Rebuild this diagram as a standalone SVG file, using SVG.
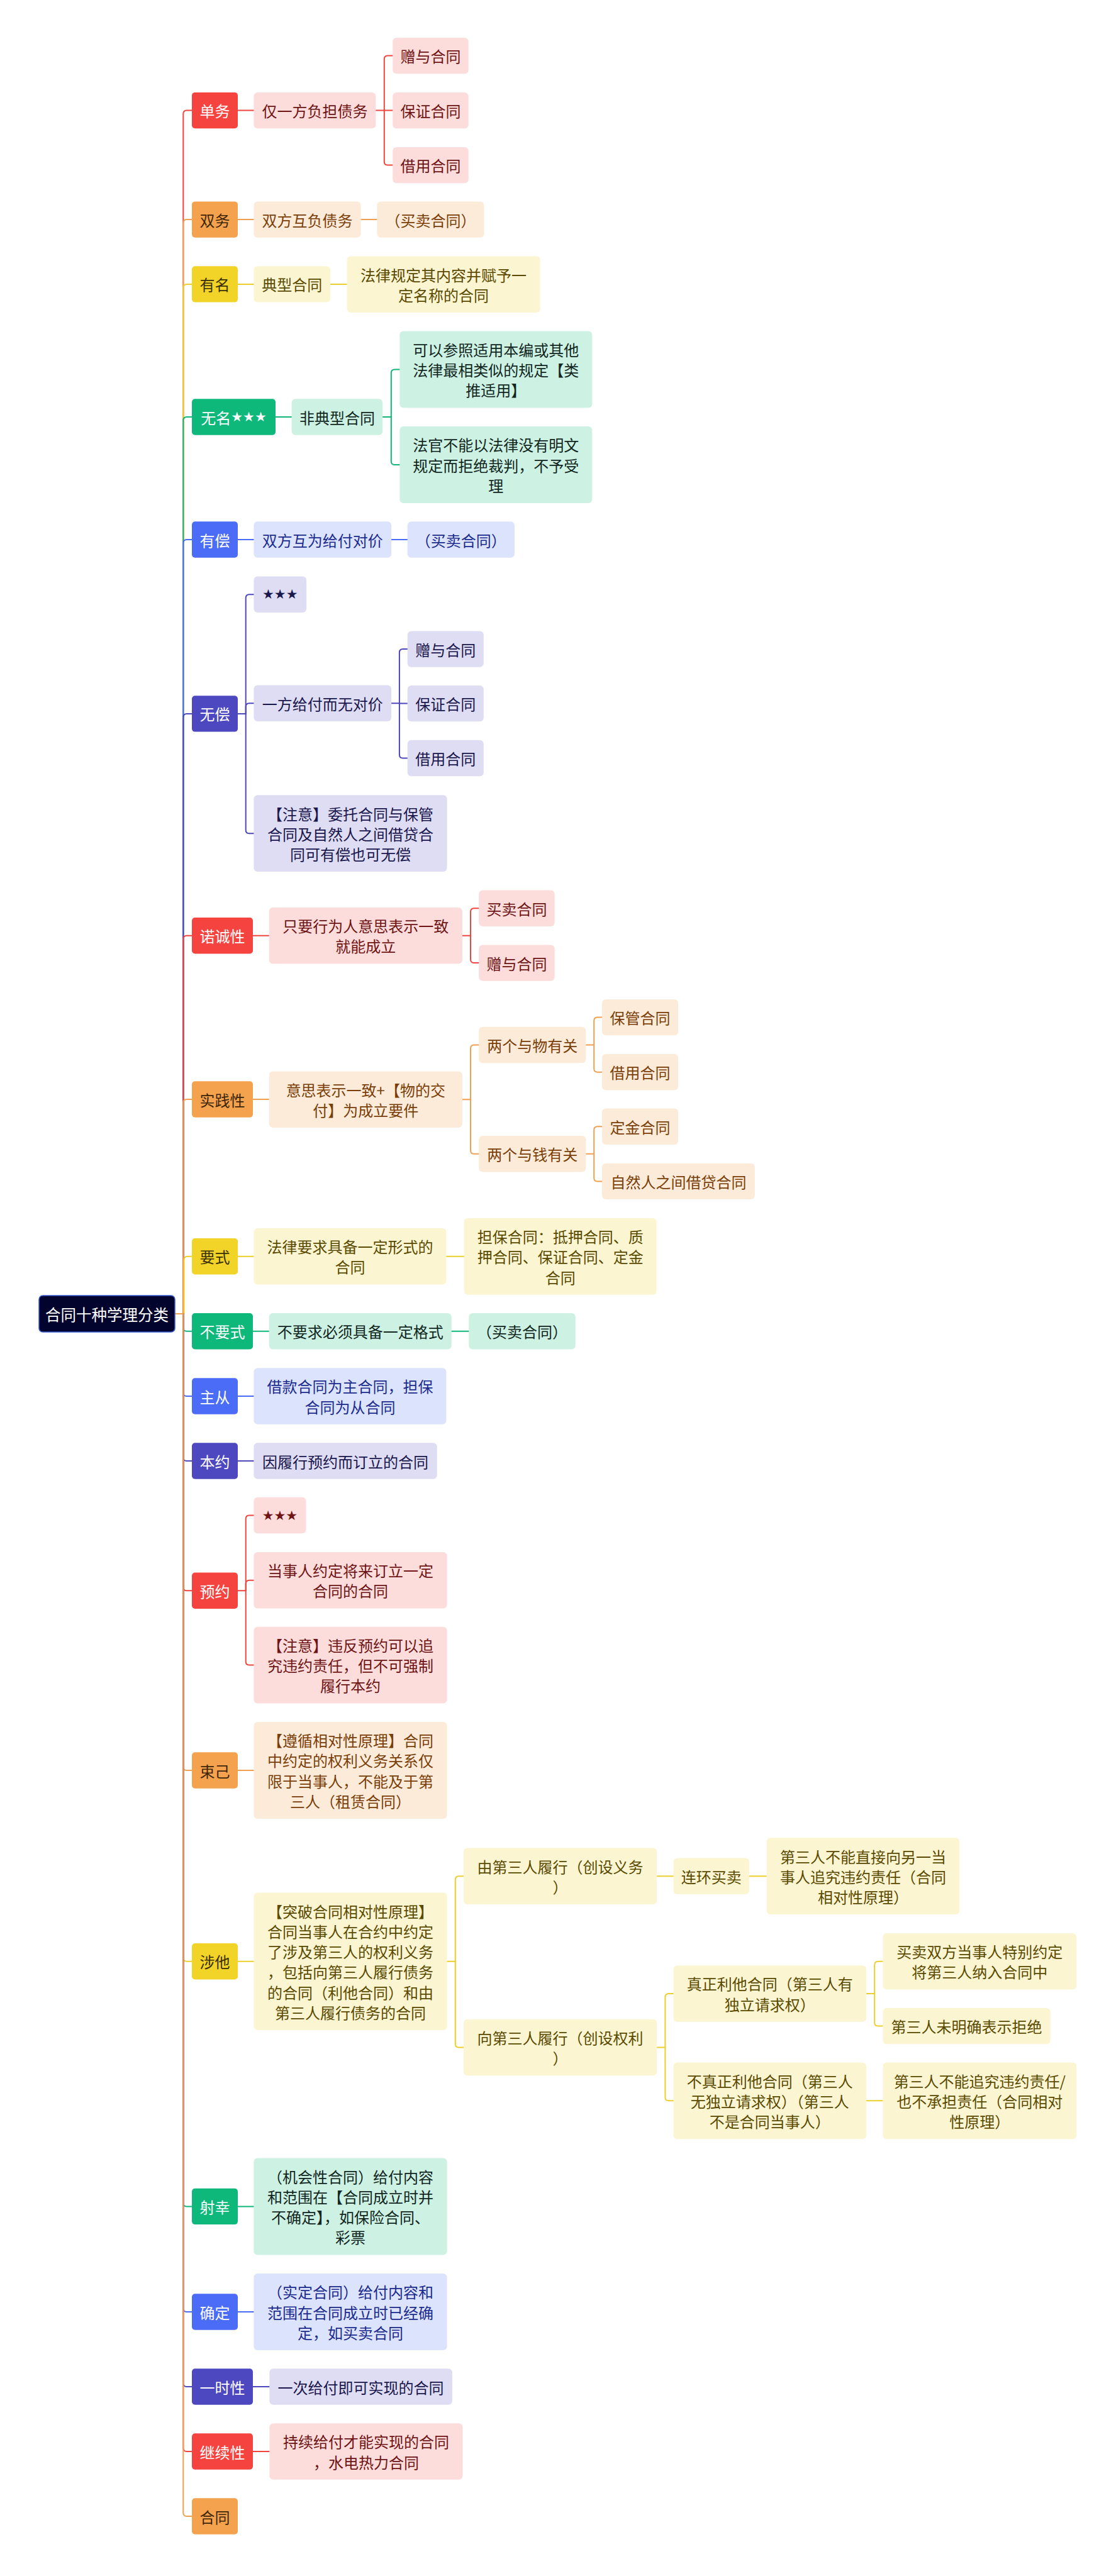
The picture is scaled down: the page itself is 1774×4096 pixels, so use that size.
<svg xmlns="http://www.w3.org/2000/svg" width="1774" height="4096" viewBox="0 0 1774 4096">
<style>
text{font-family:"Noto Sans CJK SC","Noto Sans",sans-serif;font-size:24px;text-anchor:middle;dominant-baseline:central}
.st{font-family:"DejaVu Sans",sans-serif;font-size:21px}
rect{rx:6px;ry:6px}
.l1 rect{rx:5px;ry:5px}
.R.l1 rect{fill:#F5443F}.R.l2 rect{fill:#FDDCDC}.R.l1 text{fill:#fff}.R.l2 text{fill:#6E1414}
.O.l1 rect{fill:#F4A24E}.O.l2 rect{fill:#FDEBDA}.O.l1 text{fill:#3D2506}.O.l2 text{fill:#7A3E08}
.Y.l1 rect{fill:#F2D327}.Y.l2 rect{fill:#FCF5D2}.Y.l1 text{fill:#3A3000}.Y.l2 text{fill:#5A4A00}
.G.l1 rect{fill:#0DB87A}.G.l2 rect{fill:#CDF1E2}.G.l1 text{fill:#fff}.G.l2 text{fill:#10261E}
.B.l1 rect{fill:#4A6CF6}.B.l2 rect{fill:#DCE3FC}.B.l1 text{fill:#fff}.B.l2 text{fill:#1B2B8E}
.I.l1 rect{fill:#4D48BF}.I.l2 rect{fill:#DEDDF3}.I.l1 text{fill:#fff}.I.l2 text{fill:#1A174D}
#conn path{fill:none;stroke-width:2;stroke-linecap:round;stroke-linejoin:round}
#conn .r{stroke:#F0453F}#conn .o{stroke:#F0A050}#conn .y{stroke:#EDCF2B}#conn .g{stroke:#10B57A}#conn .b{stroke:#4A6BF5}#conn .i{stroke:#4C47BD}
</style>
<rect x="0" y="0" width="1774" height="4096" fill="#fff" style="rx:0;ry:0"/>
<g id="conn">
<path class="r" d="M278 2089H291.3V181.1Q291.3 175.6 296.8 175.6H305"/>
<path class="o" d="M278 2089H291.3V354.6Q291.3 349.1 296.8 349.1H305"/>
<path class="y" d="M278 2089H291.3V457.4Q291.3 451.9 296.8 451.9H305"/>
<path class="g" d="M278 2089H291.3V668.5Q291.3 663 296.8 663H305"/>
<path class="b" d="M278 2089H291.3V863.5Q291.3 858 296.8 858H305"/>
<path class="i" d="M278 2089H291.3V1140.4Q291.3 1134.9 296.8 1134.9H305"/>
<path class="r" d="M278 2089H291.3V1493.3Q291.3 1487.8 296.8 1487.8H305"/>
<path class="o" d="M278 2089H291.3V1753.5Q291.3 1748 296.8 1748H305"/>
<path class="y" d="M278 2089H292.5V2003.3Q292.5 1997.8 298 1997.8H305"/>
<path class="g" d="M278 2089H291.3V2111.3Q291.3 2116.8 296.8 2116.8H305"/>
<path class="b" d="M278 2089H291.3V2214.5Q291.3 2220 296.8 2220H305"/>
<path class="i" d="M278 2089H291.3V2317.5Q291.3 2323 296.8 2323H305"/>
<path class="r" d="M278 2089H291.3V2523.8Q291.3 2529.3 296.8 2529.3H305"/>
<path class="o" d="M278 2089H291.3V2809.5Q291.3 2815 296.8 2815H305"/>
<path class="y" d="M278 2089H291.3V3113.3Q291.3 3118.8 296.8 3118.8H305"/>
<path class="g" d="M278 2089H291.3V3502.9Q291.3 3508.4 296.8 3508.4H305"/>
<path class="b" d="M278 2089H291.3V3670.5Q291.3 3676 296.8 3676H305"/>
<path class="i" d="M278 2089H291.3V3789.5Q291.3 3795 296.8 3795H305"/>
<path class="r" d="M278 2089H291.3V3892.5Q291.3 3898 296.8 3898H305"/>
<path class="o" d="M278 2089H291.3V3995.5Q291.3 4001 296.8 4001H305"/>

<path class="r" d="M378 175.6H403.4"/>
<path class="r" d="M597.4 175.6H610.8V94.1Q610.8 88.6 616.3 88.6H624.2"/>
<path class="r" d="M610.8 175.6H624.2"/>
<path class="r" d="M610.8 175.6V257.1Q610.8 262.6 616.3 262.6H624.2"/>

<path class="o" d="M378 349.1H403.4"/>
<path class="o" d="M573.6 349.1H599.3"/>

<path class="y" d="M378 451.9H403.4"/>
<path class="y" d="M525.2 451.9H551.5"/>

<path class="g" d="M438 663H463.6"/>
<path class="g" d="M608.2 663H621.8V593Q621.8 587.5 627.3 587.5H635.3"/>
<path class="g" d="M621.8 663V733.5Q621.8 739 627.3 739H635.3"/>

<path class="b" d="M378 858H403.4"/>
<path class="b" d="M622.1 858H647.7"/>

<path class="i" d="M378 1134.9H390.7V950.8Q390.7 945.3 396.2 945.3H403.4"/>
<path class="i" d="M390.7 1134.9V1123.8Q390.7 1118.3 396.2 1118.3H403.4"/>
<path class="i" d="M390.7 1134.9V1319.7Q390.7 1325.2 396.2 1325.2H403.4"/>
<path class="i" d="M622.1 1118.3H634.9V1037.6Q634.9 1032.1 640.4 1032.1H647.7"/>
<path class="i" d="M634.9 1118.3V1118.6H647.7"/>
<path class="i" d="M634.9 1118.3V1200Q634.9 1205.5 640.4 1205.5H647.7"/>

<path class="r" d="M402 1487.8H427.7"/>
<path class="r" d="M734.9 1487.8H748V1449.7Q748 1444.2 753.5 1444.2H761.2"/>
<path class="r" d="M748 1487.8V1525.6Q748 1531.1 753.5 1531.1H761.2"/>

<path class="o" d="M402 1748H427.7"/>
<path class="o" d="M734.9 1748.3H748V1667Q748 1661.5 753.5 1661.5H761.2"/>
<path class="o" d="M748 1748.3V1829.3Q748 1834.8 753.5 1834.8H761.2"/>
<path class="o" d="M931.4 1661.5H944.2V1623.1Q944.2 1617.6 949.7 1617.6H957"/>
<path class="o" d="M944.2 1661.5V1699.2Q944.2 1704.7 949.7 1704.7H957"/>
<path class="o" d="M931.4 1834.8H944.2V1796.8Q944.2 1791.3 949.7 1791.3H957"/>
<path class="o" d="M944.2 1834.8V1872.9Q944.2 1878.4 949.7 1878.4H957"/>

<path class="y" d="M378 1997.8H403.4"/>
<path class="y" d="M709.4 1997.8H737.7"/>

<path class="g" d="M402 2116.8H427.7"/>
<path class="g" d="M717.7 2116.8H745.3"/>

<path class="b" d="M378 2220H403.4"/>
<path class="i" d="M378 2323H403.4"/>

<path class="r" d="M378 2529.3H390.7V2415Q390.7 2409.5 396.2 2409.5H403.4"/>
<path class="r" d="M390.7 2529.3V2518.2Q390.7 2512.7 396.2 2512.7H403.4"/>
<path class="r" d="M390.7 2529.3V2642.1Q390.7 2647.6 396.2 2647.6H403.4"/>

<path class="o" d="M378 2815H403.4"/>

<path class="y" d="M378 3118.8H403.4"/>
<path class="y" d="M710.6 3118.8H723.8V2988.7Q723.8 2983.2 729.3 2983.2H737"/>
<path class="y" d="M723.8 3118.8V3250Q723.8 3255.5 729.3 3255.5H737"/>
<path class="y" d="M1044.2 2983.2H1070.5"/>
<path class="y" d="M1190.9 2983.2H1218.6"/>
<path class="y" d="M1044.2 3255.5H1057.4V3175.5Q1057.4 3170 1062.9 3170H1070.5"/>
<path class="y" d="M1057.4 3255.5V3334.8Q1057.4 3340.3 1062.9 3340.3H1070.5"/>
<path class="y" d="M1377.1 3170H1390.2V3124.3Q1390.2 3118.8 1395.7 3118.8H1403.4"/>
<path class="y" d="M1390.2 3170V3216.1Q1390.2 3221.6 1395.7 3221.6H1403.4"/>
<path class="y" d="M1377.1 3340.3H1403.4"/>

<path class="g" d="M378 3508.4H403.4"/>
<path class="b" d="M378 3676H403.4"/>
<path class="i" d="M402 3795H428.3"/>
<path class="r" d="M402 3898H428.3"/>
</g>

<g id="root"><rect x="62" y="2060" width="216" height="58" fill="#03042E" stroke="#3D5FD6" stroke-width="1.5"/><text x="170" y="2089" fill="#fff" style="font-size:24.5px">合同十种学理分类</text></g>

<g id="n1" class="R l1"><rect x="305" y="146.9" width="73" height="57.4"/><text x="341.5" y="175.6">单务</text></g>
<g id="n2" class="O l1"><rect x="305" y="320.4" width="73" height="57.4"/><text x="341.5" y="349.1">双务</text></g>
<g id="n3" class="Y l1"><rect x="305" y="423.2" width="73" height="57.4"/><text x="341.5" y="451.9">有名</text></g>
<g id="n4" class="G l1"><rect x="305" y="634.3" width="133" height="57.4"/><text x="371.5" y="663">无名<tspan class="st">★★★</tspan></text></g>
<g id="n5" class="B l1"><rect x="305" y="829.3" width="73" height="57.4"/><text x="341.5" y="858">有偿</text></g>
<g id="n6" class="I l1"><rect x="305" y="1106.2" width="73" height="57.4"/><text x="341.5" y="1134.9">无偿</text></g>
<g id="n7" class="R l1"><rect x="305" y="1459.1" width="97" height="57.4"/><text x="353.5" y="1487.8">诺诚性</text></g>
<g id="n8" class="O l1"><rect x="305" y="1719.3" width="97" height="57.4"/><text x="353.5" y="1748">实践性</text></g>
<g id="n9" class="Y l1"><rect x="305" y="1969.1" width="73" height="57.4"/><text x="341.5" y="1997.8">要式</text></g>
<g id="n10" class="G l1"><rect x="305" y="2088.1" width="97" height="57.4"/><text x="353.5" y="2116.8">不要式</text></g>
<g id="n11" class="B l1"><rect x="305" y="2191.3" width="73" height="57.4"/><text x="341.5" y="2220">主从</text></g>
<g id="n12" class="I l1"><rect x="305" y="2294.3" width="73" height="57.4"/><text x="341.5" y="2323">本约</text></g>
<g id="n13" class="R l1"><rect x="305" y="2500.6" width="73" height="57.4"/><text x="341.5" y="2529.3">预约</text></g>
<g id="n14" class="O l1"><rect x="305" y="2786.3" width="73" height="57.4"/><text x="341.5" y="2815">束己</text></g>
<g id="n15" class="Y l1"><rect x="305" y="3090.1" width="73" height="57.4"/><text x="341.5" y="3118.8">涉他</text></g>
<g id="n16" class="G l1"><rect x="305" y="3479.7" width="73" height="57.4"/><text x="341.5" y="3508.4">射幸</text></g>
<g id="n17" class="B l1"><rect x="305" y="3647.3" width="73" height="57.4"/><text x="341.5" y="3676">确定</text></g>
<g id="n18" class="I l1"><rect x="305" y="3766.3" width="97" height="57.4"/><text x="353.5" y="3795">一时性</text></g>
<g id="n19" class="R l1"><rect x="305" y="3869.3" width="97" height="57.4"/><text x="353.5" y="3898">继续性</text></g>
<g id="n20" class="O l1"><rect x="305" y="3972.3" width="73" height="57.4"/><text x="341.5" y="4001">合同</text></g>

<g id="n1a" class="R l2"><rect x="403.4" y="146.9" width="194" height="57.4"/><text x="500.4" y="175.6">仅一方负担债务</text></g>
<g id="n1a1" class="R l2"><rect x="624.2" y="59.9" width="120.5" height="57.4"/><text x="684.45" y="88.6">赠与合同</text></g>
<g id="n1a2" class="R l2"><rect x="624.2" y="146.9" width="120.5" height="57.4"/><text x="684.45" y="175.6">保证合同</text></g>
<g id="n1a3" class="R l2"><rect x="624.2" y="233.9" width="120.5" height="57.4"/><text x="684.45" y="262.6">借用合同</text></g>

<g id="n2a" class="O l2"><rect x="403.4" y="320.4" width="170.2" height="57.4"/><text x="488.5" y="349.1">双方互负债务</text></g>
<g id="n2b" class="O l2"><rect x="599.3" y="320.4" width="170.2" height="57.4"/><text x="684.4" y="349.1">（买卖合同）</text></g>

<g id="n3a" class="Y l2"><rect x="403.4" y="423.2" width="121.8" height="57.4"/><text x="464.3" y="451.9">典型合同</text></g>
<g id="n3b" class="Y l2"><rect x="551.5" y="407.4" width="307.2" height="89.6"/><text x="705.1" y="436.1">法律规定其内容并赋予一</text><text x="705.1" y="468.3">定名称的合同</text></g>

<g id="n4a" class="G l2"><rect x="463.6" y="634.3" width="144.6" height="57.4"/><text x="535.9" y="663">非典型合同</text></g>
<g id="n4a1" class="G l2"><rect x="635.3" y="526.6" width="306" height="121.8"/><text x="788.3" y="555.3">可以参照适用本编或其他</text><text x="788.3" y="587.5">法律最相类似的规定【类</text><text x="788.3" y="619.7">推适用】</text></g>
<g id="n4a2" class="G l2"><rect x="635.3" y="678.1" width="306" height="121.8"/><text x="788.3" y="706.8">法官不能以法律没有明文</text><text x="788.3" y="739">规定而拒绝裁判，不予受</text><text x="788.3" y="771.2">理</text></g>

<g id="n5a" class="B l2"><rect x="403.4" y="829.3" width="218.7" height="57.4"/><text x="512.75" y="858">双方互为给付对价</text></g>
<g id="n5b" class="B l2"><rect x="647.7" y="829.3" width="170.2" height="57.4"/><text x="732.8" y="858">（买卖合同）</text></g>

<g id="n6a" class="I l2"><rect x="403.4" y="916.6" width="83.7" height="57.4"/><text x="445.25" y="945.3" class="st">★★★</text></g>
<g id="n6b" class="I l2"><rect x="403.4" y="1089.6" width="218.7" height="57.4"/><text x="512.75" y="1118.3">一方给付而无对价</text></g>
<g id="n6b1" class="I l2"><rect x="647.7" y="1003.4" width="121.1" height="57.4"/><text x="708.25" y="1032.1">赠与合同</text></g>
<g id="n6b2" class="I l2"><rect x="647.7" y="1089.9" width="121.1" height="57.4"/><text x="708.25" y="1118.6">保证合同</text></g>
<g id="n6b3" class="I l2"><rect x="647.7" y="1176.8" width="121.1" height="57.4"/><text x="708.25" y="1205.5">借用合同</text></g>
<g id="n6c" class="I l2"><rect x="403.4" y="1264.3" width="307.2" height="121.8"/><text x="557" y="1293">【注意】委托合同与保管</text><text x="557" y="1325.2">合同及自然人之间借贷合</text><text x="557" y="1357.4">同可有偿也可无偿</text></g>

<g id="n7a" class="R l2"><rect x="427.7" y="1443" width="307.2" height="89.6"/><text x="581.3" y="1471.7">只要行为人意思表示一致</text><text x="581.3" y="1503.9">就能成立</text></g>
<g id="n7a1" class="R l2"><rect x="761.2" y="1415.5" width="120.4" height="57.4"/><text x="821.4" y="1444.2">买卖合同</text></g>
<g id="n7a2" class="R l2"><rect x="761.2" y="1502.4" width="120.4" height="57.4"/><text x="821.4" y="1531.1">赠与合同</text></g>

<g id="n8a" class="O l2"><rect x="427.7" y="1703.5" width="307.2" height="89.6"/><text x="581.3" y="1732.2">意思表示一致+【物的交</text><text x="581.3" y="1764.4">付】为成立要件</text></g>
<g id="n8a1" class="O l2"><rect x="761.2" y="1632.8" width="170.2" height="57.4"/><text x="846.3" y="1661.5">两个与物有关</text></g>
<g id="n8a1a" class="O l2"><rect x="957" y="1588.9" width="121.1" height="57.4"/><text x="1017.55" y="1617.6">保管合同</text></g>
<g id="n8a1b" class="O l2"><rect x="957" y="1676" width="121.1" height="57.4"/><text x="1017.55" y="1704.7">借用合同</text></g>
<g id="n8a2" class="O l2"><rect x="761.2" y="1806.1" width="170.2" height="57.4"/><text x="846.3" y="1834.8">两个与钱有关</text></g>
<g id="n8a2a" class="O l2"><rect x="957" y="1762.6" width="121.1" height="57.4"/><text x="1017.55" y="1791.3">定金合同</text></g>
<g id="n8a2b" class="O l2"><rect x="957" y="1849.7" width="242.9" height="57.4"/><text x="1078.45" y="1878.4">自然人之间借贷合同</text></g>

<g id="n9a" class="Y l2"><rect x="403.4" y="1953" width="306" height="89.6"/><text x="556.4" y="1981.7">法律要求具备一定形式的</text><text x="556.4" y="2013.9">合同</text></g>
<g id="n9b" class="Y l2"><rect x="737.7" y="1936.9" width="306" height="121.8"/><text x="890.7" y="1965.6">担保合同：抵押合同、质</text><text x="890.7" y="1997.8">押合同、保证合同、定金</text><text x="890.7" y="2030">合同</text></g>

<g id="n10a" class="G l2"><rect x="427.7" y="2088.1" width="290" height="57.4"/><text x="572.7" y="2116.8">不要求必须具备一定格式</text></g>
<g id="n10b" class="G l2"><rect x="745.3" y="2088.1" width="169.5" height="57.4"/><text x="830.05" y="2116.8">（买卖合同）</text></g>

<g id="n11a" class="B l2"><rect x="403.4" y="2175.2" width="306" height="89.6"/><text x="556.4" y="2203.9">借款合同为主合同，担保</text><text x="556.4" y="2236.1">合同为从合同</text></g>

<g id="n12a" class="I l2"><rect x="403.4" y="2294.3" width="291.3" height="57.4"/><text x="549.05" y="2323">因履行预约而订立的合同</text></g>

<g id="n13a" class="R l2"><rect x="403.4" y="2380.8" width="83" height="57.4"/><text x="444.9" y="2409.5" class="st">★★★</text></g>
<g id="n13b" class="R l2"><rect x="403.4" y="2467.9" width="307.2" height="89.6"/><text x="557" y="2496.6">当事人约定将来订立一定</text><text x="557" y="2528.8">合同的合同</text></g>
<g id="n13c" class="R l2"><rect x="403.4" y="2586.7" width="307.2" height="121.8"/><text x="557" y="2615.4">【注意】违反预约可以追</text><text x="557" y="2647.6">究违约责任，但不可强制</text><text x="557" y="2679.8">履行本约</text></g>

<g id="n14a" class="O l2"><rect x="403.4" y="2738" width="307.2" height="154"/><text x="557" y="2766.7">【遵循相对性原理】合同</text><text x="557" y="2798.9">中约定的权利义务关系仅</text><text x="557" y="2831.1">限于当事人，不能及于第</text><text x="557" y="2863.3">三人（租赁合同）</text></g>

<g id="n15a" class="Y l2"><rect x="403.4" y="3009.6" width="307.2" height="218.4"/><text x="557" y="3038.3">【突破合同相对性原理】</text><text x="557" y="3070.5">合同当事人在合约中约定</text><text x="557" y="3102.7">了涉及第三人的权利义务</text><text x="557" y="3134.9">，包括向第三人履行债务</text><text x="557" y="3167.1">的合同（利他合同）和由</text><text x="557" y="3199.3">第三人履行债务的合同</text></g>
<g id="n15a1" class="Y l2"><rect x="737" y="2938.4" width="307.2" height="89.6"/><text x="890.6" y="2967.1">由第三人履行（创设义务</text><text x="890.6" y="2999.3">）</text></g>
<g id="n15a1a" class="Y l2"><rect x="1070.5" y="2954.5" width="120.4" height="57.4"/><text x="1130.7" y="2983.2">连环买卖</text></g>
<g id="n15a1b" class="Y l2"><rect x="1218.6" y="2922.3" width="306.6" height="121.8"/><text x="1371.9" y="2951">第三人不能直接向另一当</text><text x="1371.9" y="2983.2">事人追究违约责任（合同</text><text x="1371.9" y="3015.4">相对性原理）</text></g>
<g id="n15a2" class="Y l2"><rect x="737" y="3210.7" width="307.2" height="89.6"/><text x="890.6" y="3239.4">向第三人履行（创设权利</text><text x="890.6" y="3271.6">）</text></g>
<g id="n15a2a" class="Y l2"><rect x="1070.5" y="3125.2" width="306.6" height="89.6"/><text x="1223.8" y="3153.9">真正利他合同（第三人有</text><text x="1223.8" y="3186.1">独立请求权）</text></g>
<g id="n15a2a1" class="Y l2"><rect x="1403.4" y="3074" width="307.9" height="89.6"/><text x="1557.35" y="3102.7">买卖双方当事人特别约定</text><text x="1557.35" y="3134.9">将第三人纳入合同中</text></g>
<g id="n15a2a2" class="Y l2"><rect x="1403.4" y="3192.9" width="266.4" height="57.4"/><text x="1536.6" y="3221.6">第三人未明确表示拒绝</text></g>
<g id="n15a2b" class="Y l2"><rect x="1070.5" y="3279.4" width="306.6" height="121.8"/><text x="1223.8" y="3308.1">不真正利他合同（第三人</text><text x="1223.8" y="3340.3">无独立请求权）（第三人</text><text x="1223.8" y="3372.5">不是合同当事人）</text></g>
<g id="n15a2b1" class="Y l2"><rect x="1403.4" y="3279.4" width="307.9" height="121.8"/><text x="1557.35" y="3308.1">第三人不能追究违约责任/</text><text x="1557.35" y="3340.3">也不承担责任（合同相对</text><text x="1557.35" y="3372.5">性原理）</text></g>

<g id="n16a" class="G l2"><rect x="403.4" y="3431.4" width="307.2" height="154"/><text x="557" y="3460.1">（机会性合同）给付内容</text><text x="557" y="3492.3">和范围在【合同成立时并</text><text x="557" y="3524.5">不确定】，如保险合同、</text><text x="557" y="3556.7">彩票</text></g>

<g id="n17a" class="B l2"><rect x="403.4" y="3615.1" width="307.2" height="121.8"/><text x="557" y="3643.8">（实定合同）给付内容和</text><text x="557" y="3676">范围在合同成立时已经确</text><text x="557" y="3708.2">定，如买卖合同</text></g>

<g id="n18a" class="I l2"><rect x="428.3" y="3766.3" width="290.6" height="57.4"/><text x="573.6" y="3795">一次给付即可实现的合同</text></g>

<g id="n19a" class="R l2"><rect x="428.3" y="3853.2" width="307.2" height="89.6"/><text x="581.9" y="3881.9">持续给付才能实现的合同</text><text x="581.9" y="3914.1">，水电热力合同</text></g>
</svg>
